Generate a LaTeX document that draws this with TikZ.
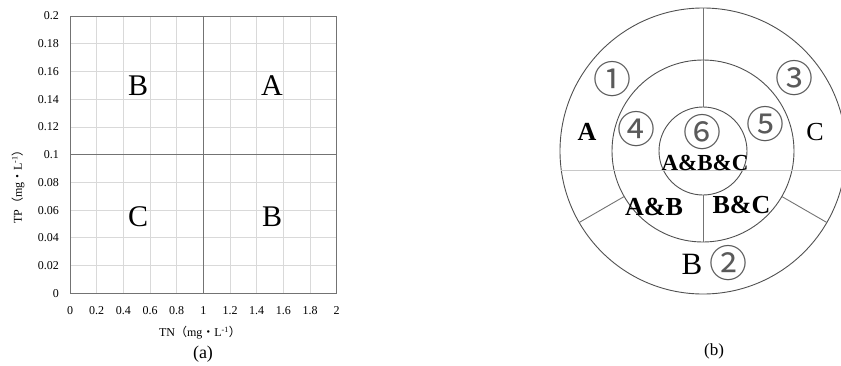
\documentclass[tikz,border=0pt]{standalone}
\usepackage{fontspec}
\setmainfont{Liberation Serif}
\newfontfamily\cjk{Noto Sans CJK SC}
\usetikzlibrary{positioning,calc}
\definecolor{gridGray}{RGB}{217,217,217}
\definecolor{lineGray}{RGB}{200,200,200}
\definecolor{axisGray}{RGB}{115,115,115}
\definecolor{ringGray}{RGB}{80,80,80}
\definecolor{numGray}{RGB}{90,90,90}
\newcommand{\fsz}[1]{\fontsize{#1}{#1}\selectfont}
\newcommand{\fw}[1]{{\cjk #1}}

\begin{document}
\begin{tikzpicture}[x=1pt,y=-1pt,
    tick/.style={font=\fsz{12},inner sep=0pt},
    zone/.style={font=\fsz{30},inner sep=0pt},
    ring/.style={circle,draw=ringGray,line width=0.9pt,inner sep=0pt,outer sep=0pt},
    num/.style={font=\cjk\fsz{38},text=numGray,inner sep=0pt},
    setlab/.style={font=\bfseries\fsz{26},inner sep=0pt}]
  \useasboundingbox (0,0) rectangle (841,365);

  % (a) TN--TP plane
  \begin{scope}[shift={(70,293.3)},x=133.35pt,y=1386.5pt]
    \foreach \v in {0.2,0.4,0.6,0.8,1.2,1.4,1.6,1.8}
      \draw[gridGray,line width=0.8pt] (\v,0) -- (\v,0.2);
    \foreach \v in {0.02,0.04,0.06,0.08,0.12,0.14,0.16,0.18}
      \draw[gridGray,line width=0.8pt] (0,\v) -- (2,\v);
    \draw[axisGray,line width=0.9pt] (1,0) -- (1,0.2) (0,0.1) -- (2,0.1);
    \draw[axisGray,line width=1pt] (0,0) rectangle (2,0.2);
    \foreach \t [count=\i] in {0,0.02,0.04,0.06,0.08,0.1,0.12,0.14,0.16,0.18,0.2}
      \node[tick,anchor=east,xshift=-11pt] (ty\i) at (0,\t) {\t};
    \foreach \t [count=\i] in {0,0.2,0.4,0.6,0.8,1,1.2,1.4,1.6,1.8,2}
      \node[tick,yshift=-17.7pt] (tx\i) at (\t,0) {\t};
    \node[zone] (qB1) at (0.51,0.15) {B};
    \node[zone] (qA) at (1.515,0.15) {A};
    \node[zone] (qC) at (0.51,0.055) {C};
    \node[zone] (qB2) at (1.515,0.055) {B};
  \end{scope}
  \node[tick] (tnlab) at (200,333) {TN\fw{（}mg\fw{・}L\textsuperscript{-1}\fw{）}};
  \node[tick,rotate=90] (tplab) at (18,184) {TP\fw{（}mg\fw{・}L\textsuperscript{-1}\fw{）}};
  \node[font=\fsz{18},inner sep=0pt] (capa) at (203,354) {(a)};

  % (b) rings
  \coordinate (O) at (703,151);
  \node[ring,minimum size=286pt] (outer) at (O) {};
  \node[ring,minimum size=182pt] (mid) at (O) {};
  \node[ring,minimum size=88pt] (inner) at (O) {};
  \draw[lineGray,line width=0.9pt] (outer.188.45) -- (outer.-8.45);
  \draw[axisGray,line width=0.9pt] (outer.north) -- (inner.north) (inner.south) -- (mid.south);
  \draw[axisGray,line width=0.9pt] (mid.210) -- (outer.210) (mid.330) -- (outer.330);

  \node[num] (n1) at (612,79) {①};
  \node[num] (n2) at (728,263) {②};
  \node[num] (n3) at (794,78) {③};
  \node[num] (n4) at (636,129) {④};
  \node[num] (n5) at (765,124) {⑤};
  \node[num] (n6) at (702,132) {⑥};
  \node[setlab] (sA) at (587,132) {A};
  \node[font=\fsz{26},inner sep=0pt] (sC) at (815,132) {C};
  \node[font=\fsz{31},inner sep=0pt] (sB) at (692,264) {B};
  \node[setlab,font=\bfseries\fsz{23}] (sABC) at (705,162.5) {A\&B\&C};
  \node[setlab] (sAB) at (654,206.5) {A\&B};
  \node[setlab] (sBC) at (741.5,205) {B\&C};
  \node[font=\fsz{17},inner sep=0pt] (capb) at (714,351) {(b)};
\end{tikzpicture}
\end{document}
